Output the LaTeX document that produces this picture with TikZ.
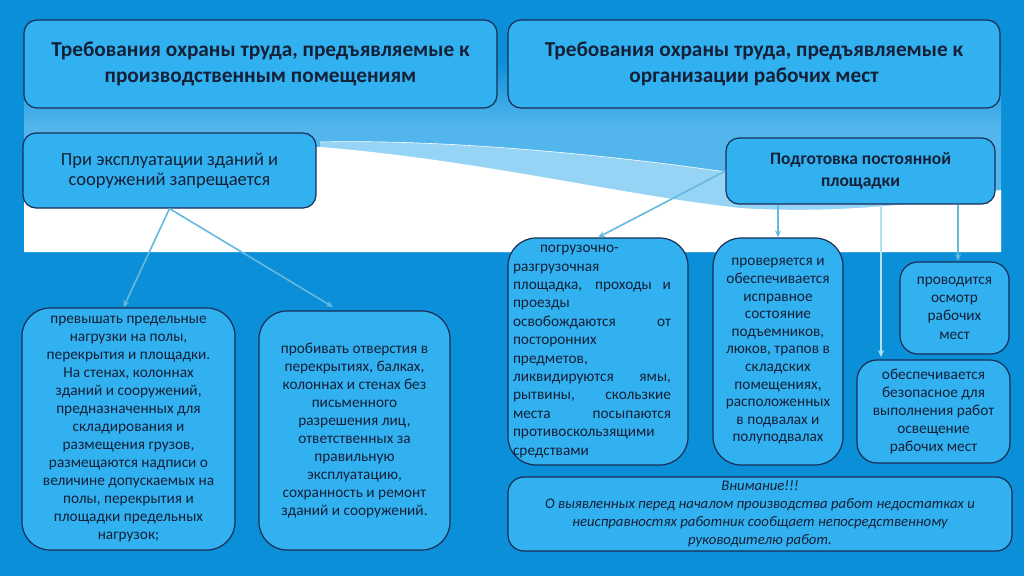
\documentclass[tikz,border=0pt]{standalone}
\usepackage{fontspec}
\setmainfont{Carlito}
\usetikzlibrary{arrows.meta, positioning, calc}
\definecolor{bgblue}{RGB}{10,143,216}
\definecolor{panelblue}{RGB}{82,181,236}
\definecolor{bandblue}{RGB}{150,212,245}
\definecolor{boxblue}{RGB}{50,177,240}
\definecolor{edge}{RGB}{25,45,85}
\definecolor{ink}{RGB}{20,32,56}
\definecolor{arrowblue}{RGB}{100,185,222}
\definecolor{arrowlight}{RGB}{178,226,246}
\newcommand{\jline}[1]{\makebox[158pt][s]{#1}}

\begin{document}
\begin{tikzpicture}[x=1pt, y=-1pt,
  box/.style={draw=edge, line width=1.2pt, fill=boxblue, rounded corners=13pt,
    text=ink, inner sep=0pt, align=center},
  headbox/.style={box, minimum height=88pt, font=\fontsize{21.3}{26}\selectfont\bfseries},
  bigbox/.style={box, rounded corners=28pt, font=\fontsize{15.3}{18}\selectfont},
  link/.style={draw=arrowblue, line width=1.6pt, -{Stealth[length=7pt,width=6pt]}}]
  \useasboundingbox (0,0) rectangle (1024,576);

  % background, panel and swoosh
  \fill[bgblue] (0,0) rectangle (1024,576);
  \shade[top color=bgblue, bottom color=panelblue] (24,60) rectangle (1001,125);
  \fill[panelblue] (24,124) rectangle (1001,252);
  \fill[bandblue] (320,142) .. controls (450,139) and (620,156) .. (740,174)
    -- (1001,190) -- (1001,252) -- (320,252) -- cycle;
  \draw[white, line width=0.6pt] (320,142) .. controls (450,139) and (620,156) .. (740,174);
  \fill[white] (24,147) -- (320,147) .. controls (480,160) and (620,195) .. (740,208)
    .. controls (850,215) and (950,200) .. (1001,190) -- (1001,252) -- (24,252) -- cycle;

  % headings
  \node[headbox, minimum width=473pt] (head1) at (260.5,64)
    {Требования охраны труда, предъявляемые к\\производственным помещениям};
  \node[headbox, minimum width=492pt] (head2) at (754,64)
    {Требования охраны труда, предъявляемые к\\организации рабочих мест};

  % second level
  \node[box, minimum width=293pt, minimum height=75pt,
    font=\fontsize{18.5}{20}\selectfont] (lsub) at (169.5,170.5)
    {При эксплуатации зданий и\\сооружений запрещается};
  \node[box, minimum width=269pt, minimum height=66pt,
    font=\fontsize{17.5}{22}\selectfont\bfseries] (rsub) at (860.5,171)
    {Подготовка постоянной\\площадки};

  % left branch
  \node[bigbox, minimum width=213pt, minimum height=242pt] (abox) at (128.5,429)
    {превышать предельные\\нагрузки на полы,\\перекрытия и площадки.\\На стенах, колоннах\\
     зданий и сооружений,\\предназначенных для\\складирования и\\размещения грузов,\\
     размещаются надписи о\\величине допускаемых на\\полы, перекрытия и\\
     площадки предельных\\нагрузок;};
  \node[bigbox, minimum width=191pt, minimum height=239pt] (bbox) at (354.5,430.5)
    {пробивать отверстия в\\перекрытиях, балках,\\колоннах и стенах без\\письменного\\
     разрешения лиц,\\ответственных за\\правильную\\эксплуатацию,\\
     сохранность и ремонт\\зданий и сооружений.};

  % right branch
  \node[bigbox, align=left, minimum width=180pt, minimum height=227pt,
    font=\fontsize{15.3}{18.4}\selectfont] (cbox) at (598,351.5)
    {\hspace*{27pt}погрузочно-\\разгрузочная\\\jline{площадка, проходы и}\\проезды\\
     \jline{освобождаются от}\\посторонних\\предметов,\\\jline{ликвидируются ямы,}\\
     \jline{рытвины, скользкие}\\\jline{места посыпаются}\\
     \makebox[170pt][l]{противоскользящими}\\средствами};
  \node[bigbox, minimum width=130pt, minimum height=227pt,
    font=\fontsize{15.3}{17.6}\selectfont] (dbox) at (778,351.5)
    {проверяется и\\обеспечивается\\исправное\\состояние\\подъемников,\\
     люков, трапов в\\складских\\помещениях,\\расположенных\\в подвалах и\\полуподвалах};
  \node[bigbox, rounded corners=18pt, minimum width=109pt, minimum height=92pt,
    font=\fontsize{15.3}{18.3}\selectfont] (ebox) at (954.5,308)
    {проводится\\осмотр\\рабочих\\мест};
  \node[bigbox, rounded corners=20pt, minimum width=153pt, minimum height=103pt] (fbox)
    at (933.5,411.5)
    {обеспечивается\\безопасное для\\выполнения работ\\освещение\\рабочих мест};

  % note
  \node[box, rounded corners=16pt, minimum width=504pt, minimum height=74pt,
    font=\fontsize{14.7}{18}\selectfont\itshape] (note) at (760,514)
    {Внимание!!!\\О выявленных перед началом производства работ недостатках и\\
     неисправностях работник сообщает непосредственному\\руководителю работ.};

  % connectors
  \coordinate (btop) at (333,307);
  \coordinate (ftop) at (881,357);
  \draw[link] (lsub.south) -- ([xshift=-5pt]abox.north);
  \draw[link] (lsub.south) -- (btop);
  \draw[link] (rsub.west) -- (cbox.north);
  \draw[link] (rsub.south -| dbox.north) -- (dbox.north);
  \draw[link, draw=arrowlight] (rsub.south -| ftop) -- (ftop);
  \draw[link] (rsub.south -| 958,0) -- (958,261);
\end{tikzpicture}
\end{document}
